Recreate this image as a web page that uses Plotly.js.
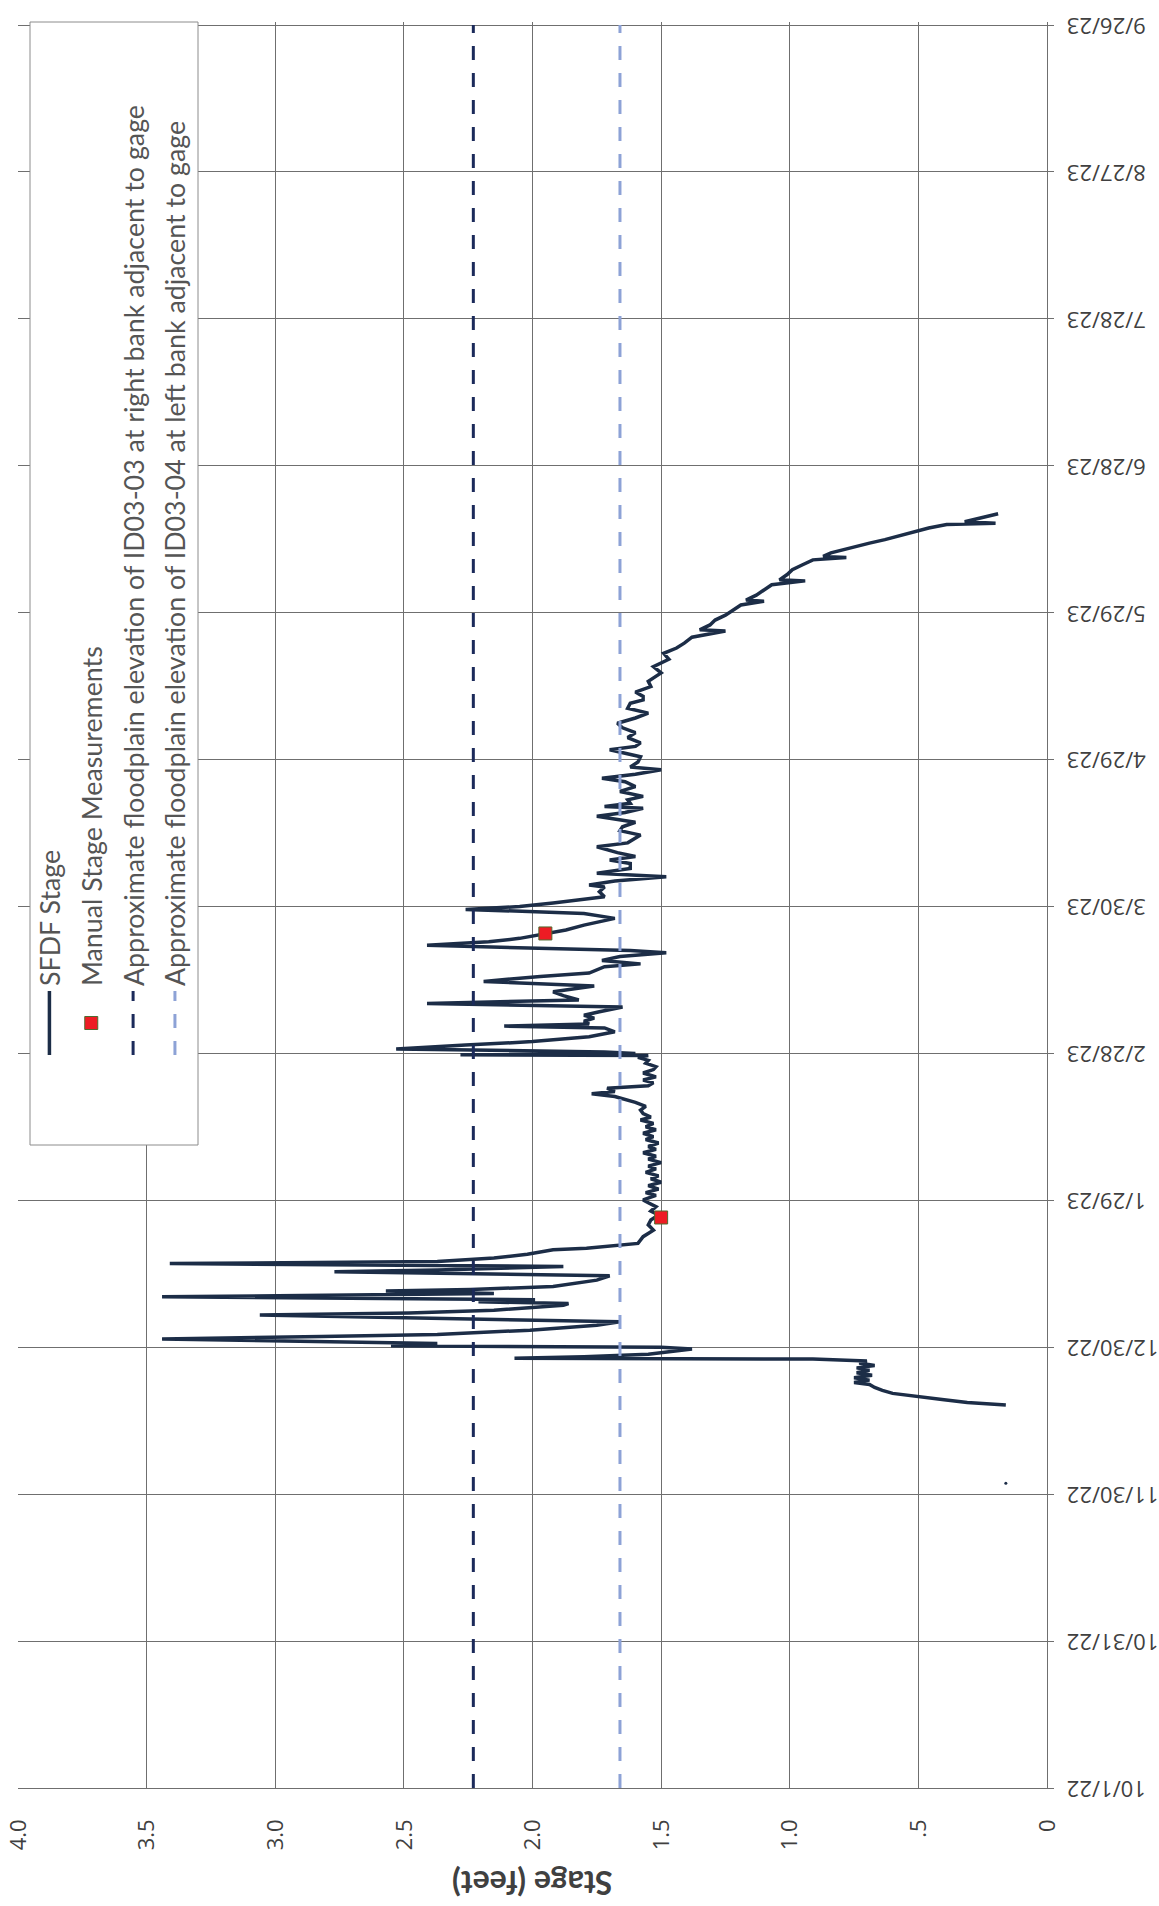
<!DOCTYPE html>
<html>
<head>
<meta charset="utf-8">
<script src="https://cdn.plot.ly/plotly-3.0.1.min.js"></script>
<style>
  html, body { margin: 0; padding: 0; background: #ffffff; overflow: hidden; }
  #wrap { position: absolute; left: 0; top: 0; width: 1159px; height: 1906px; overflow: hidden; }
  /* The chart is laid out landscape and the page shows it turned a quarter turn counter-clockwise */
  #chart { position: absolute; left: 0; top: 0; width: 1906px; height: 1159px;
           transform-origin: 0 0; transform: translateY(1906px) rotate(-90deg); }
</style>
</head>
<body>
<div id="wrap"><div id="chart"></div></div>
<script>
// ---------- data ----------
const stageDates = [
  "2022-12-18 05:00","2022-12-18 17:00","2022-12-19 07:00","2022-12-20 00:00","2022-12-20 14:00",
  "2022-12-21 05:00","2022-12-21 19:00","2022-12-22 10:00","2022-12-22 19:00","2022-12-23 07:00",
  "2022-12-23 19:00","2022-12-24 07:00","2022-12-24 19:00","2022-12-25 07:00","2022-12-25 19:00",
  "2022-12-26 07:00","2022-12-26 19:00","2022-12-27 05:00","2022-12-27 14:00","2022-12-27 18:00",
  "2022-12-28 02:00","2022-12-28 14:00","2022-12-29 07:00","2022-12-29 15:00","2022-12-30 00:00",
  "2022-12-30 07:00","2022-12-30 19:00","2022-12-31 17:00","2023-01-01 05:00","2023-01-01 14:00",
  "2023-01-02 12:00","2023-01-03 12:00","2023-01-04 05:00","2023-01-04 22:00","2023-01-05 14:00",
  "2023-01-06 00:00","2023-01-06 14:00","2023-01-07 14:00","2023-01-07 22:00","2023-01-08 07:00",
  "2023-01-08 17:00","2023-01-09 07:00","2023-01-09 17:00","2023-01-10 00:00","2023-01-10 12:00",
  "2023-01-10 19:00","2023-01-11 10:00","2023-01-12 17:00","2023-01-13 14:00","2023-01-14 10:00",
  "2023-01-14 19:00","2023-01-15 12:00","2023-01-16 02:00","2023-01-16 12:00","2023-01-17 05:00",
  "2023-01-18 00:00","2023-01-18 22:00","2023-01-19 05:00","2023-01-20 05:00","2023-01-21 14:00",
  "2023-01-22 22:00","2023-01-24 00:00","2023-01-25 00:00","2023-01-26 00:00","2023-01-26 19:00",
  "2023-01-27 17:00","2023-01-28 12:00","2023-01-29 02:00","2023-01-30 00:00","2023-01-30 14:00",
  "2023-01-31 07:00","2023-02-01 00:00","2023-02-01 17:00","2023-02-02 10:00","2023-02-03 00:00",
  "2023-02-03 17:00","2023-02-04 10:00","2023-02-05 00:00","2023-02-05 17:00","2023-02-06 10:00",
  "2023-02-07 00:00","2023-02-07 17:00","2023-02-08 10:00","2023-02-09 00:00","2023-02-09 17:00",
  "2023-02-10 10:00","2023-02-11 00:00","2023-02-11 17:00","2023-02-12 10:00","2023-02-13 00:00",
  "2023-02-13 17:00","2023-02-14 10:00","2023-02-15 00:00","2023-02-15 17:00","2023-02-16 10:00",
  "2023-02-17 05:00","2023-02-18 00:00","2023-02-18 12:00","2023-02-19 05:00","2023-02-19 19:00",
  "2023-02-20 05:00","2023-02-20 22:00","2023-02-21 10:00","2023-02-22 00:00","2023-02-22 14:00",
  "2023-02-23 05:00","2023-02-24 00:00","2023-02-24 17:00","2023-02-25 07:00","2023-02-26 00:00",
  "2023-02-26 14:00","2023-02-27 05:00","2023-02-27 14:00","2023-02-27 17:00","2023-02-28 00:00",
  "2023-02-28 07:00","2023-02-28 22:00","2023-03-01 17:00","2023-03-02 10:00","2023-03-03 10:00",
  "2023-03-04 10:00","2023-03-05 05:00","2023-03-05 14:00","2023-03-06 00:00","2023-03-06 14:00",
  "2023-03-07 05:00","2023-03-07 19:00","2023-03-08 12:00","2023-03-09 12:00","2023-03-10 05:00",
  "2023-03-10 22:00","2023-03-11 19:00","2023-03-12 14:00","2023-03-13 19:00","2023-03-14 17:00",
  "2023-03-15 17:00","2023-03-16 10:00","2023-03-17 17:00","2023-03-18 07:00","2023-03-19 00:00",
  "2023-03-19 19:00","2023-03-20 14:00","2023-03-21 00:00","2023-03-22 02:00","2023-03-22 19:00",
  "2023-03-23 12:00","2023-03-24 05:00","2023-03-25 05:00","2023-03-26 05:00","2023-03-27 14:00",
  "2023-03-28 14:00","2023-03-29 10:00","2023-03-30 00:00","2023-03-30 17:00","2023-04-01 00:00",
  "2023-04-02 00:00","2023-04-03 00:00","2023-04-03 10:00","2023-04-04 05:00","2023-04-05 02:00",
  "2023-04-05 19:00","2023-04-06 19:00","2023-04-07 19:00","2023-04-08 12:00","2023-04-09 05:00",
  "2023-04-10 00:00","2023-04-11 05:00","2023-04-12 00:00","2023-04-13 14:00","2023-04-14 12:00",
  "2023-04-15 07:00","2023-04-16 05:00","2023-04-17 10:00","2023-04-18 05:00","2023-04-19 02:00",
  "2023-04-19 10:00","2023-04-20 02:00","2023-04-20 19:00","2023-04-21 12:00","2023-04-22 12:00",
  "2023-04-23 12:00","2023-04-24 12:00","2023-04-25 05:00","2023-04-26 00:00","2023-04-26 22:00",
  "2023-04-27 12:00","2023-04-28 12:00","2023-04-29 14:00","2023-04-30 07:00","2023-05-01 00:00",
  "2023-05-01 17:00","2023-05-02 10:00","2023-05-03 12:00","2023-05-04 12:00","2023-05-05 12:00",
  "2023-05-06 10:00","2023-05-07 12:00","2023-05-08 12:00","2023-05-09 12:00","2023-05-10 12:00",
  "2023-05-11 05:00","2023-05-11 22:00","2023-05-12 19:00","2023-05-13 22:00","2023-05-15 00:00",
  "2023-05-16 17:00","2023-05-18 00:00","2023-05-19 12:00","2023-05-20 17:00","2023-05-21 19:00",
  "2023-05-22 19:00","2023-05-24 00:00","2023-05-25 06:00","2023-05-25 12:00","2023-05-26 12:00",
  "2023-05-27 12:00","2023-05-28 12:00","2023-05-29 14:00","2023-05-30 14:00","2023-05-31 08:00",
  "2023-05-31 14:00","2023-06-01 14:00","2023-06-02 17:00","2023-06-03 17:00","2023-06-04 12:00",
  "2023-06-04 17:00","2023-06-05 19:00","2023-06-06 19:00","2023-06-07 19:00","2023-06-08 19:00",
  "2023-06-09 06:00","2023-06-09 12:00","2023-06-10 05:00","2023-06-10 22:00","2023-06-11 12:00",
  "2023-06-12 05:00","2023-06-12 22:00","2023-06-13 14:00","2023-06-14 07:00","2023-06-14 19:00",
  "2023-06-15 07:00","2023-06-16 00:00","2023-06-16 06:00","2023-06-16 14:00","2023-06-17 10:00",
  "2023-06-18 05:00"
];
const stageFeet = [
  0.16,0.31,0.40,0.51,0.60,
  0.64,0.67,0.69,0.75,0.69,
  0.75,0.68,0.74,0.69,0.74,
  0.67,0.73,0.70,0.91,2.07,
  1.80,1.55,1.42,1.38,1.50,
  2.55,2.37,3.44,2.82,2.37,
  2.01,1.75,1.66,2.42,3.06,
  2.48,2.15,1.88,1.86,2.21,
  1.99,3.44,2.59,2.15,2.57,
  2.24,1.92,1.75,1.70,2.77,
  2.37,1.88,3.41,2.37,2.15,
  2.02,1.92,1.79,1.59,1.57,
  1.53,1.55,1.54,1.51,1.54,
  1.52,1.55,1.57,1.52,1.56,
  1.51,1.55,1.50,1.54,1.51,
  1.56,1.52,1.55,1.50,1.55,
  1.52,1.57,1.52,1.55,1.51,
  1.56,1.53,1.57,1.52,1.56,
  1.53,1.58,1.54,1.57,1.58,
  1.56,1.60,1.63,1.68,1.77,
  1.68,1.71,1.55,1.53,1.57,
  1.52,1.57,1.53,1.52,1.56,
  1.55,1.59,1.55,2.28,1.60,
  1.72,2.53,2.26,2.00,1.78,
  1.68,1.72,2.11,1.78,1.80,
  1.76,1.80,1.74,1.65,2.41,
  1.82,1.88,1.92,1.76,2.19,
  1.97,1.78,1.72,1.58,1.73,
  1.66,1.48,1.62,2.41,2.17,
  2.05,1.97,1.87,1.80,1.68,
  1.80,2.26,2.05,1.92,1.72,
  1.74,1.72,1.78,1.68,1.48,
  1.75,1.62,1.62,1.70,1.60,
  1.67,1.75,1.63,1.58,1.66,
  1.65,1.60,1.75,1.64,1.57,
  1.72,1.62,1.63,1.57,1.66,
  1.60,1.64,1.73,1.60,1.50,
  1.62,1.59,1.58,1.64,1.70,
  1.60,1.58,1.63,1.60,1.65,
  1.67,1.60,1.55,1.63,1.62,
  1.57,1.57,1.60,1.54,1.55,
  1.50,1.53,1.47,1.49,1.44,
  1.41,1.38,1.25,1.35,1.31,
  1.29,1.25,1.22,1.19,1.10,
  1.17,1.13,1.10,1.07,0.94,
  1.04,1.01,0.99,0.95,0.91,
  0.78,0.87,0.84,0.79,0.74,
  0.69,0.63,0.58,0.54,0.50,
  0.46,0.39,0.20,0.32,0.25,
  0.19
];
// lone reading plotted before the continuous record begins
const loneDates = ["2022-12-02 05:00"];
const loneFeet = [0.16];

const manualDates = ["2023-01-25 12:00", "2023-03-24 12:00"];
const manualFeet = [1.50, 1.95];

const floodDates = ["2022-10-01", "2023-09-26"];
const rightBankFeet = [2.23, 2.23];
const leftBankFeet = [1.66, 1.66];

const dateTicks = ["2022-10-01","2022-10-31","2022-11-30","2022-12-30","2023-01-29","2023-02-28",
                   "2023-03-30","2023-04-29","2023-05-29","2023-06-28","2023-07-28","2023-08-27","2023-09-26"];
const dateTickText = ["10/1/22","10/31/22","11/30/22","12/30/22","1/29/23","2/28/23",
                      "3/30/23","4/29/23","5/29/23","6/28/23","7/28/23","8/27/23","9/26/23"];
const stageTicks = [0, 0.5, 1.0, 1.5, 2.0, 2.5, 3.0, 3.5, 4.0];
const stageTickText = ["0", ".5", "1.0", "1.5", "2.0", "2.5", "3.0", "3.5", "4.0"];

const seriesNames = [
  "SFDF Stage",
  "Manual Stage Measurements",
  "Approximate floodplain elevation of ID03-03 at right bank adjacent to gage",
  "Approximate floodplain elevation of ID03-04 at left bank adjacent to gage"
];
const stageAxisTitle = "Stage (feet)";

// ---------- chart ----------
const lineColor = "#1c2d47";
const dashStyle = "14px,13px";
const traces = [
  { type: "scatter", mode: "lines", name: seriesNames[0], legendgroup: "g1",
    x: stageDates, y: stageFeet, line: { color: lineColor, width: 3.5 } },
  { type: "scatter", mode: "markers", name: seriesNames[0], legendgroup: "g1", showlegend: false,
    x: loneDates, y: loneFeet, marker: { color: lineColor, size: 3 } },
  { type: "scatter", mode: "markers", name: seriesNames[1], legendgroup: "g2",
    x: manualDates, y: manualFeet,
    marker: { symbol: "square", size: 13, color: "#ee1c24", line: { color: "#4f6b2f", width: 1 } } },
  { type: "scatter", mode: "lines", name: seriesNames[2], legendgroup: "g3",
    x: floodDates, y: rightBankFeet, line: { color: "#1b2a5a", width: 3, dash: dashStyle } },
  { type: "scatter", mode: "lines", name: seriesNames[3], legendgroup: "g4",
    x: floodDates, y: leftBankFeet, line: { color: "#8da2d6", width: 3, dash: dashStyle } }
];

const W = 1906, H = 1159;
const M = { l: 118, r: 22, t: 18, b: 112 };
const pw = W - M.l - M.r, ph = H - M.t - M.b;
const px = v => (v - M.l) / pw;          // pixel -> paper x
const py = v => (H - M.b - v) / ph;      // pixel -> paper y

const gridCol = "#6f6f6f";
const layout = {
  width: W, height: H,
  margin: M,
  paper_bgcolor: "#ffffff", plot_bgcolor: "#ffffff",
  showlegend: true,
  xaxis: {
    type: "date",
    range: ["2022-10-01", "2023-09-26 15:00"],
    tickmode: "array", tickvals: dateTicks, ticktext: dateTickText,
    tickangle: -90,
    ticks: "outside", ticklen: 6, tickcolor: gridCol, tickwidth: 1,
    ticklabelstandoff: 4,
    showgrid: true, gridcolor: gridCol, gridwidth: 1,
    showline: true, linecolor: gridCol, linewidth: 1,
    zeroline: false, automargin: false,
    tickfont: { family: "Open Sans, sans-serif", size: 22, color: "#404040" }
  },
  yaxis: {
    range: [0, 4],
    tickmode: "array", tickvals: stageTicks, ticktext: stageTickText,
    ticks: "", ticklabelstandoff: 26,
    showgrid: true, gridcolor: gridCol, gridwidth: 1,
    showline: true, linecolor: gridCol, linewidth: 1,
    zeroline: false, automargin: false,
    tickfont: { family: "Open Sans, sans-serif", size: 22, color: "#404040" }
  },
  annotations: [
    { text: "<b>" + stageAxisTitle + "</b>", xref: "paper", yref: "paper",
      x: px(23), y: 0.5, xanchor: "center", yanchor: "middle", textangle: -90,
      showarrow: false, font: { family: "Lato, sans-serif", size: 32, color: "#404040" } }
  ],
  legend: {
    x: px(846), xanchor: "left", y: py(25.5), yanchor: "top",
    bgcolor: "rgba(0,0,0,0)", borderwidth: 0,
    itemwidth: 64, tracegroupgap: 4,
    font: { family: "Lato, sans-serif", size: 26.8, color: "#555555" }
  },
  shapes: [
    { type: "rect", xref: "paper", yref: "paper", layer: "above",
      x0: px(761), x1: px(1884), y0: py(198), y1: py(30),
      fillcolor: "#ffffff", line: { color: "#8c8c8c", width: 1 } }
  ]
};

Plotly.newPlot("chart", traces, layout, { staticPlot: true, displayModeBar: false });
</script>
</body>
</html>
